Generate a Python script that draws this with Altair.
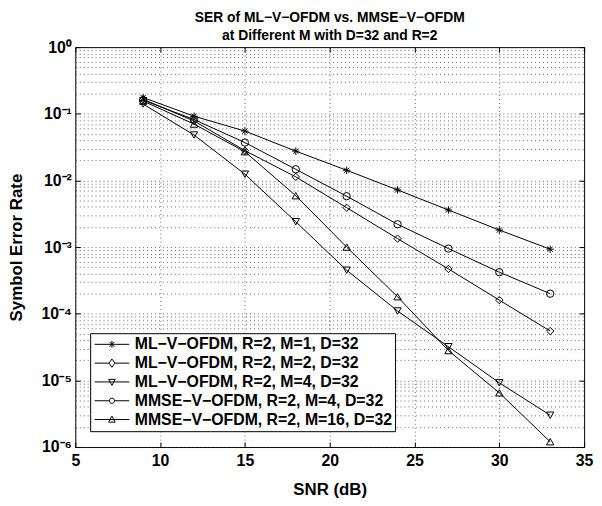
import altair as alt
import pandas as pd

FONT = "Liberation Sans"

# ---------------- data ----------------
snr = [9, 12, 15, 18, 21, 24, 27, 30, 33]

series_names = [
    "ML−V−OFDM, R=2, M=1, D=32",
    "ML−V−OFDM, R=2, M=2, D=32",
    "ML−V−OFDM, R=2, M=4, D=32",
    "MMSE−V−OFDM, R=2, M=4, D=32",
    "MMSE−V−OFDM, R=2, M=16, D=32",
]

ser_ml_m1 = [0.175, 0.092, 0.055, 0.0275, 0.0142, 0.0072, 0.0036, 0.0018, 0.00093]
ser_ml_m2 = [0.165, 0.078, 0.028, 0.0113, 0.0039, 0.00134, 0.00047, 0.00016, 0.000055]
ser_ml_m4 = [0.14, 0.048, 0.0124, 0.0024, 0.00045, 0.00011, 0.000032, 0.0000092, 0.000003]
ser_mmse_m4 = [0.16, 0.082, 0.037, 0.0147, 0.0058, 0.0022, 0.00095, 0.00042, 0.0002]
ser_mmse_m16 = [0.155, 0.07, 0.027, 0.0059, 0.001, 0.00018, 0.000028, 0.0000065, 0.0000012]

x_ticks = [5, 10, 15, 20, 25, 30, 35]
y_major = [1e-6, 1e-5, 1e-4, 1e-3, 1e-2, 1e-1, 1.0]
y_grid = [m * 10.0 ** e for e in range(-6, 0) for m in range(1, 10)] + [1.0]
y_labels = ["10⁻⁶", "10⁻⁵", "10⁻⁴", "10⁻³", "10⁻²", "10⁻¹", "10⁰"]

all_series = [ser_ml_m1, ser_ml_m2, ser_ml_m4, ser_mmse_m4, ser_mmse_m16]
rows = []
for name, vals in zip(series_names, all_series):
    for s, v in zip(snr, vals):
        rows.append({"snr": s, "ser": v, "series": name})
df = pd.DataFrame(rows)

# marker shapes (plot) and line+marker shapes (legend)
asterisk = "M-1,0H1M0,-1V1M-0.7,-0.7L0.7,0.7M-0.7,0.7L0.7,-0.7"
point_shapes = [asterisk, "diamond", "triangle-down", "circle", "triangle-up"]
legend_shapes = [
    "M-1,0H1M0,-0.2V0.2M-0.14,-0.14L0.14,0.14M-0.14,0.14L0.14,-0.14",
    "M-1,0H-0.17M0.17,0H1M-0.17,0L0,-0.24L0.17,0L0,0.24Z",
    "M-1,0H1M-0.19,-0.15L0.19,-0.15L0,0.2Z",
    "M-1,0H-0.15M0.15,0H1M0.15,0A0.15,0.15 0 1,1 -0.15,0A0.15,0.15 0 1,1 0.15,0",
    "M-1,0H1M0,-0.2L0.19,0.15L-0.19,0.15Z",
]

x_scale = alt.Scale(domain=[5, 35], nice=False, zero=False)
y_scale = alt.Scale(type="log", domain=[1e-6, 1], nice=False)

is_pow = "abs(log(datum.value)/LN10 - round(log(datum.value)/LN10)) < 0.001"
label_expr = (
    f"({is_pow}) ? {y_labels}[round(log(datum.value)/LN10)+6] : ''"
)

x_axis_main = alt.Axis(
    values=x_ticks, title="SNR (dB)", grid=True, domain=False,
    ticks=True, tickSize=5, tickColor="black", offset=-5,
    labelPadding=6, labelFlush=False, labelOverlap=False, format="d",
    titlePadding=13,
)
y_axis_main = alt.Axis(
    values=y_grid, title="Symbol Error Rate", grid=True, domain=False,
    ticks=True, tickSize=5, tickColor="black", offset=-5,
    tickOpacity={"condition": {"test": is_pow, "value": 1}, "value": 0},
    labelExpr=label_expr, labelPadding=4, labelFlush=False,
    labelOverlap=False, titlePadding=16,
)
x_axis_top = alt.Axis(
    values=x_ticks, orient="top", title=None, grid=False, domain=False,
    labels=False, ticks=True, tickSize=5, tickColor="black", offset=-5,
)
y_axis_right = alt.Axis(
    values=y_major, orient="right", title=None, grid=False, domain=False,
    labels=False, ticks=True, tickSize=5, tickColor="black", offset=-5,
)

lines = alt.Chart(df).mark_line(color="black", strokeWidth=1).encode(
    x=alt.X("snr:Q", scale=x_scale, axis=x_axis_main),
    y=alt.Y("ser:Q", scale=y_scale, axis=y_axis_main),
    detail="series:N",
    order="snr:Q",
)

points = alt.Chart(df).mark_point(
    filled=False, color="black", strokeWidth=1, size=55, opacity=1
).encode(
    x=alt.X("snr:Q", scale=x_scale, axis=x_axis_top),
    y=alt.Y("ser:Q", scale=y_scale, axis=y_axis_right),
    shape=alt.Shape(
        "series:N",
        scale=alt.Scale(domain=series_names, range=point_shapes),
        legend=None,
    ),
)

legend_layer = alt.Chart(df).transform_filter("false").mark_point(
    filled=False, color="black", strokeWidth=1, opacity=1
).encode(
    x=alt.X("snr:Q", scale=x_scale, axis=None),
    y=alt.Y("ser:Q", scale=y_scale, axis=None),
    shape=alt.Shape(
        "series:N",
        scale=alt.Scale(domain=series_names, range=legend_shapes),
        legend=alt.Legend(
            title=None, orient="none", legendX=15, legendY=289,
            symbolSize=1225, clipHeight=18.5, rowPadding=0,
            padding=2, labelOffset=5, symbolOffset=2,
            strokeColor="black", fillColor="white",
            symbolStrokeColor="black", symbolStrokeWidth=1,
            labelFont=FONT, labelFontSize=16, labelFontWeight="bold",
            labelColor="black", labelLimit=500,
        ),
    ),
)

chart = (
    alt.layer(lines, points, legend_layer)
    .resolve_scale(shape="independent")
    .resolve_axis(x="independent", y="independent")
    .properties(
        width=514,
        height=404,
        background="white",
        autosize=alt.AutoSizeParams(type="none"),
        padding={"left": 68, "top": 37, "right": 10, "bottom": 52},
        title=alt.TitleParams(
            text=["SER of ML−V−OFDM vs. MMSE−V−OFDM",
                  "at Different M with D=32 and R=2"],
            font=FONT, fontSize=14, fontWeight="bold", color="black",
            anchor="middle", offset=-4, lineHeight=18,
        ),
    )
    .configure_view(stroke="black", strokeWidth=1)
    .configure_axis(
        gridColor="#333", gridDash=[1, 3], gridWidth=1, gridOpacity=0.75,
        labelFont=FONT, labelFontSize=16, labelFontWeight="bold",
        labelColor="black", titleFont=FONT, titleFontSize=17,
        titleFontWeight="bold", titleColor="black",
    )
)

chart.save("out.html", embed_options={"renderer": "svg", "actions": False})
